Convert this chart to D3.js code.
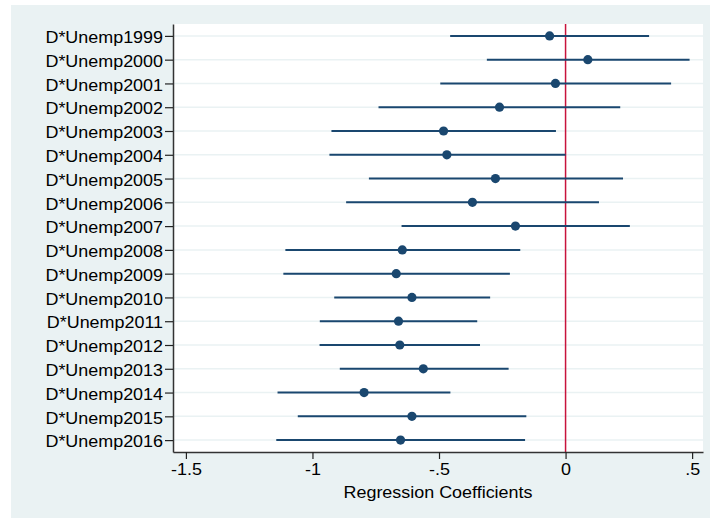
<!DOCTYPE html>
<html>
<head>
<meta charset="utf-8">
<script src="https://cdn.jsdelivr.net/npm/d3@7"></script>
<style>
  body { margin: 0; background: #fff; }
  svg { display: block; font-family: "Liberation Sans", Arial, sans-serif; }
</style>
</head>
<body>
<svg id="chart" width="710" height="518"></svg>
<script>
// coefficients
const terms = ["D*Unemp1999", "D*Unemp2000", "D*Unemp2001", "D*Unemp2002", "D*Unemp2003", "D*Unemp2004",
    "D*Unemp2005", "D*Unemp2006", "D*Unemp2007", "D*Unemp2008", "D*Unemp2009", "D*Unemp2010",
    "D*Unemp2011", "D*Unemp2012", "D*Unemp2013", "D*Unemp2014", "D*Unemp2015", "D*Unemp2016"];
const coef = [-0.063, 0.088, -0.040, -0.261, -0.482, -0.469, -0.277, -0.368, -0.198,
    -0.645, -0.669, -0.607, -0.660, -0.655, -0.562, -0.796, -0.607, -0.652];
const ciLow = [-0.456, -0.311, -0.495, -0.739, -0.925, -0.933, -0.777, -0.867, -0.648,
    -1.107, -1.115, -0.914, -0.971, -0.972, -0.892, -1.138, -1.058, -1.143];
const ciHigh = [0.330, 0.490, 0.417, 0.216, -0.038, 0.000, 0.227, 0.132, 0.254,
    -0.179, -0.220, -0.298, -0.349, -0.338, -0.225, -0.455, -0.155, -0.160];
const xTicks = [-1.5, -1, -0.5, 0, 0.5];
const xTickLabels = ["-1.5", "-1", "-.5", "0", ".5"];

const data = terms.map((t, i) => ({term: t, b: coef[i], lo: ciLow[i], hi: ciHigh[i]}));

const PLOT = {left: 173, right: 703, top: 24, bottom: 452};
const NAVY = "#1a476f";

const svg = d3.select("#chart");

// outer (graph) region
svg.append("rect")
    .attr("x", 11).attr("y", 5)
    .attr("width", 699).attr("height", 513)
    .attr("fill", "#eaf2f3");

svg.append("rect")
    .attr("x", PLOT.left).attr("y", PLOT.top)
    .attr("width", PLOT.right - PLOT.left).attr("height", PLOT.bottom - PLOT.top)
    .attr("fill", "#fff");

const x = d3.scaleLinear().domain([-1.551, 0.543]).range([PLOT.left, PLOT.right]);
const y = d3.scalePoint().domain(terms).range([PLOT.top, PLOT.bottom]).padding(0.5);

// grid lines
svg.append("g")
    .selectAll("line")
    .data(terms)
    .enter()
    .append("line")
    .attr("x1", PLOT.left).attr("x2", PLOT.right)
    .attr("y1", d => y(d)).attr("y2", d => y(d))
    .attr("stroke", "#eaf2f3")
    .attr("stroke-width", 1.5);

// zero line
svg.append("line")
    .attr("x1", x(0)).attr("x2", x(0))
    .attr("y1", PLOT.top).attr("y2", PLOT.bottom)
    .attr("stroke", "#c8133c")
    .attr("stroke-width", 1.5);

// confidence intervals
svg.append("g")
    .selectAll("line")
    .data(data)
    .enter()
    .append("line")
    .attr("x1", d => x(d.lo)).attr("x2", d => x(d.hi))
    .attr("y1", d => y(d.term)).attr("y2", d => y(d.term))
    .attr("stroke", NAVY)
    .attr("stroke-width", 2);

svg.append("g")
    .selectAll("circle")
    .data(data)
    .enter()
    .append("circle")
    .attr("cx", d => x(d.b))
    .attr("cy", d => y(d.term))
    .attr("r", 4.6)
    .attr("fill", NAVY);

// axes
const yAxis = svg.append("g")
    .attr("transform", `translate(${PLOT.left},0)`)
    .call(d3.axisLeft(y).tickSize(8).tickSizeOuter(0).tickPadding(2));
yAxis.selectAll("text")
    .attr("dy", "0.42em");

const xAxis = svg.append("g")
    .attr("transform", `translate(0,${PLOT.bottom})`)
    .call(d3.axisBottom(x).tickValues(xTicks).tickFormat((d, i) => xTickLabels[i])
        .tickSize(7).tickSizeOuter(0).tickPadding(5));

[yAxis, xAxis].forEach(a => {
    a.attr("font-family", null);
    a.selectAll("text").attr("font-size", 16).attr("fill", "#000");
    a.select(".domain").attr("stroke", "#333").attr("stroke-width", 1.5);
    a.selectAll(".tick line").attr("stroke", "#222").attr("stroke-width", 1.2);
});

svg.append("text")
    .attr("x", (PLOT.left + PLOT.right) / 2)
    .attr("y", 498)
    .attr("text-anchor", "middle")
    .attr("font-size", 16)
    .attr("fill", "#000")
    .text("Regression Coefficients");

// the original font is a little wider than Liberation Sans
svg.selectAll("text").each(function () {
    const w = this.getComputedTextLength();
    d3.select(this)
        .attr("textLength", w * 1.12)
        .attr("lengthAdjust", "spacingAndGlyphs");
});
</script>
</body>
</html>
